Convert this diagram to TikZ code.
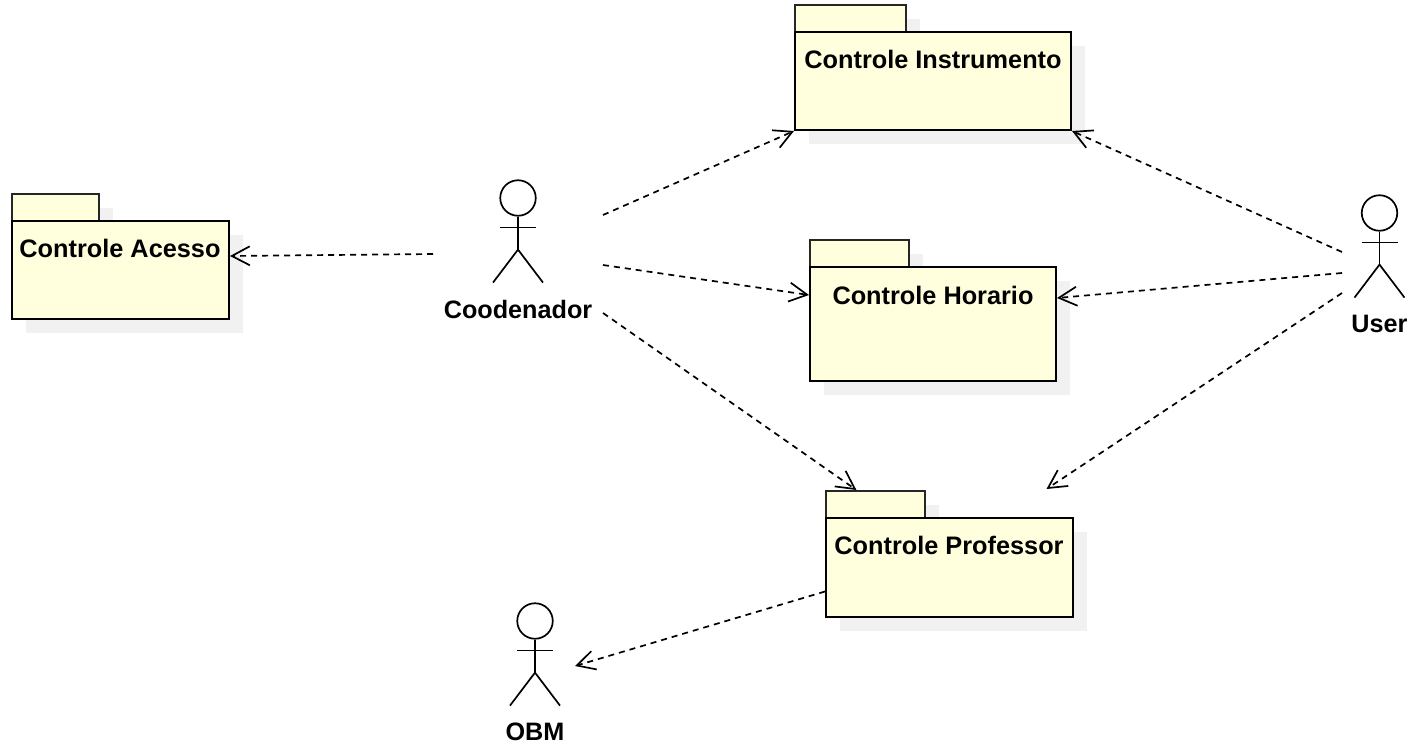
\documentclass[tikz,border=0pt]{standalone}
\usepackage{fontspec}
\setmainfont{Liberation Sans}
\usetikzlibrary{arrows.meta}
\definecolor{pkgfill}{HTML}{FFFFDD}
\definecolor{pkgshadow}{HTML}{F1F1F1}
\tikzset{
  x=1pt,y=-1pt,
  pkgbody/.style={draw=black,fill=pkgfill,line width=2pt,inner sep=0pt,anchor=north west},
  pkgtab/.style={draw=black!85,fill=pkgfill,line width=1.8pt,inner sep=0pt,anchor=north west},
  shadowbox/.style={fill=pkgshadow,draw=none,inner sep=0pt,anchor=north west},
  pkgtitle/.style={font=\fontsize{25.3}{28}\selectfont\bfseries,inner sep=0pt,anchor=center},
  actorhead/.style={circle,draw=black,line width=1.7pt,fill=white,minimum size=35.5pt,inner sep=0pt},
  actorname/.style={font=\fontsize{25.2}{28}\selectfont\bfseries,inner sep=0pt,anchor=center},
  actorline/.style={draw=black,line width=1.7pt},
  dep/.style={draw=black,line width=1.7pt,dash pattern=on 6pt off 5pt,
    -{Straight Barb[length=18pt,width=19pt,line width=1.7pt]}}
}
\newcommand{\pkg}[9]{%
  % name, x, y (tab top), tab w, body w, body h, title, title x, title y
  \node[shadowbox,minimum width=#4 pt,minimum height=27pt] at (#2+14,#3+14) {};
  \node[shadowbox,minimum width=#5 pt,minimum height=#6 pt] at (#2+14,#3+41) {};
  \node[pkgtab,minimum width=#4 pt,minimum height=27pt] (#1tab) at (#2-1,#3-1) {};
  \node[pkgbody,minimum width=#5 pt,minimum height=#6 pt] (#1) at (#2-1,#3+26) {};
  \node[pkgtitle] (#1title) at (#8,#9) {#7};
}
\newcommand{\actor}[5]{%
  % name, center x, top y, label, label y
  \node[actorhead] (#1) at (#2,#3+18) {};
  \draw[actorline] (#1.south) -- ++(0,33) coordinate (#1hip);
  \draw[actorline] ([yshift=-11pt]#1.south) ++(-18,0) -- ++(36,0);
  \draw[actorline] (#1hip) -- ++(-25,33);
  \draw[actorline] (#1hip) -- ++(25,33);
  \node[actorname] (#1name) at (#2,#5) {#4};
}
\begin{document}
\begin{tikzpicture}
\useasboundingbox (0,0) rectangle (1416,744);
\pkg{acesso}{12}{194}{87}{217}{98}{Controle Acesso}{120}{248}
\pkg{instr}{795}{5}{111}{276}{98}{Controle Instrumento}{933}{59}
\pkg{horario}{810}{240}{99}{246}{114}{Controle Horario}{933}{295}
\pkg{prof}{826}{491}{99}{247}{99}{Controle Professor}{949}{545}
\actor{cood}{518}{180}{Coodenador}{309}
\actor{user}{1379.5}{195}{User}{324}
\actor{obm}{535}{603}{OBM}{732}
\draw[dep] ([shift={(-85,56)}]cood.center) -- ([yshift=14pt]acesso.east);
\draw[dep] ([shift={(85,17)}]cood.center) -- (instr.south west);
\draw[dep] ([shift={(85,67)}]cood.center) -- ([yshift=29pt]horario.west);
\draw[dep] ([shift={(85,115)}]cood.center) -- ([xshift=-19pt]proftab.north);
\draw[dep] ([shift={(-37.5,39)}]user.center) -- (instr.south east);
\draw[dep] ([shift={(-37.5,60)}]user.center) -- ([yshift=26pt]horario.east);
\draw[dep] ([shift={(-37.5,80)}]user.center) -- ([xshift=97pt,yshift=28pt]prof.north);
\draw[dep] ([yshift=-24pt]prof.west) -- ([shift={(40,45)}]obm.center);
\end{tikzpicture}
\end{document}
